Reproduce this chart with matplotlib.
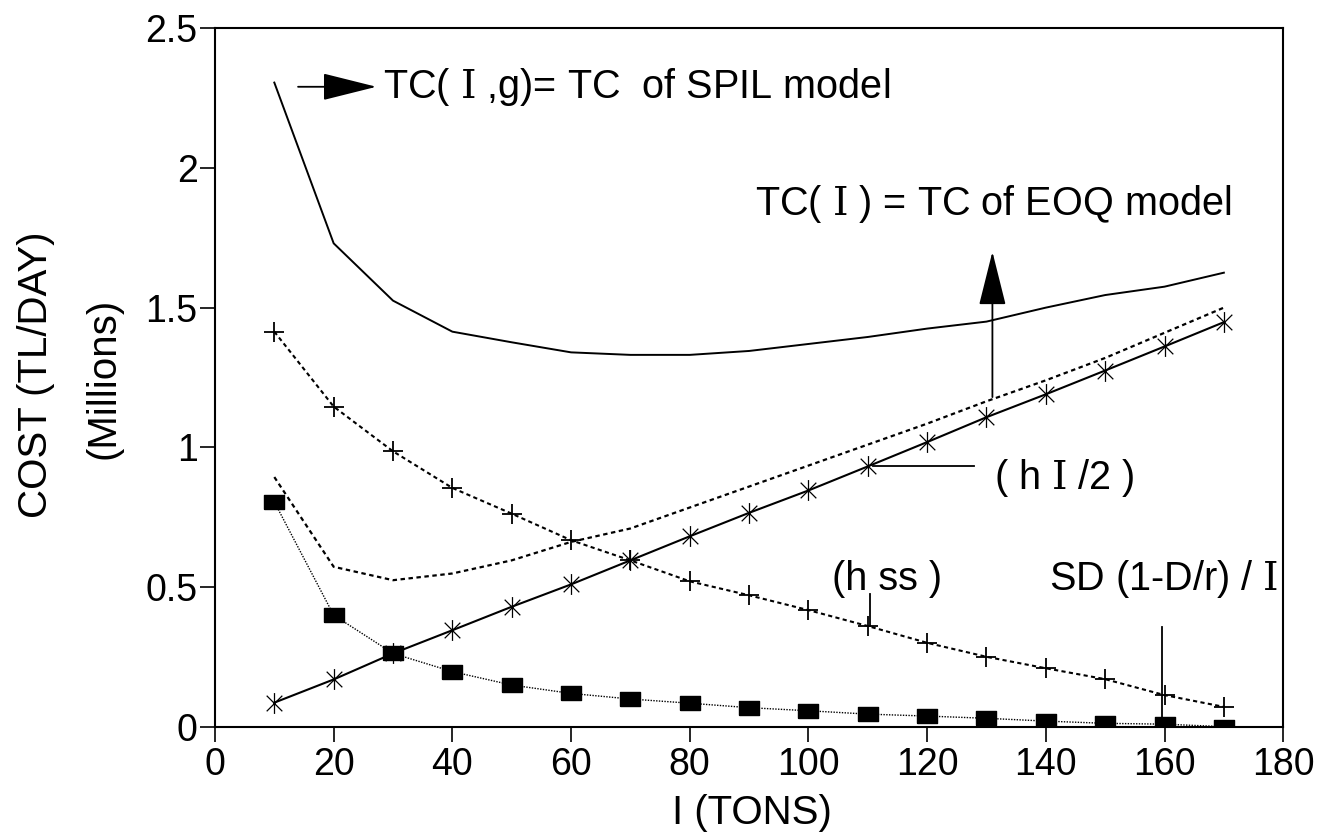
import matplotlib
matplotlib.use("Agg")
import matplotlib.pyplot as plt
from matplotlib.path import Path

plt.rcParams["font.family"] = ["Liberation Sans", "DejaVu Sans"]
plt.rcParams["mathtext.fontset"] = "dejavuserif"

# order quantity I (tons)
tons = [10, 20, 30, 40, 50, 60, 70, 80, 90, 100, 110, 120, 130, 140, 150, 160, 170]

# cost components, millions TL/day
tc_spil = [2.305, 1.73, 1.525, 1.414, 1.376, 1.34, 1.331, 1.331, 1.345, 1.37,
           1.395, 1.425, 1.45, 1.50, 1.545, 1.575, 1.625]
tc_eoq = [0.894, 0.573, 0.525, 0.549, 0.596, 0.662, 0.71, 0.785, 0.86, 0.935,
          1.01, 1.085, 1.165, 1.24, 1.32, 1.41, 1.50]
holding = [0.087, 0.17, 0.263, 0.346, 0.43, 0.51, 0.596, 0.682, 0.766, 0.846,
           0.932, 1.019, 1.108, 1.19, 1.275, 1.361, 1.448]
safety = [1.414, 1.146, 0.986, 0.855, 0.763, 0.668, 0.596, 0.521, 0.471, 0.418,
          0.361, 0.301, 0.251, 0.21, 0.171, 0.114, 0.072]
shortage = [0.805, 0.40, 0.263, 0.198, 0.15, 0.12, 0.10, 0.085, 0.069, 0.058,
            0.046, 0.039, 0.031, 0.021, 0.013, 0.01, 0.001]

x_ticks = [0, 20, 40, 60, 80, 100, 120, 140, 160, 180]
y_ticks = [0, 0.5, 1, 1.5, 2, 2.5]
y_tick_labels = ["0", "0.5", "1", "1.5", "2", "2.5"]

# asterisk marker: vertical stroke plus two diagonals
star = Path([(0, -1), (0, 1), (-0.75, -0.75), (0.75, 0.75), (-0.75, 0.75), (0.75, -0.75)],
            [Path.MOVETO, Path.LINETO] * 3)
# flat rectangle for the shortage series
rect = [(-1.45, -1), (1.45, -1), (1.45, 1), (-1.45, 1), (-1.45, -1)]

fig = plt.figure(figsize=(13.27, 8.38), dpi=100)
ax = fig.add_axes([0.162, 0.1325, 0.805, 0.834])

ax.plot(tons, tc_spil, color="black", lw=1.4)
ax.plot(tons, tc_eoq, color="black", lw=1.6, ls=(0, (2, 1.6)))
ax.plot(tons, holding, color="black", lw=1.5, marker=star, ms=15,
        mfc="none", mec="black", mew=0.9)
ax.plot(tons, safety, color="black", lw=1.5, ls=(0, (2, 1.6)), marker="+",
        ms=15, mew=1.3)
ax.plot(tons, shortage, color="black", lw=1.0, ls=(0, (1, 1)), marker=rect,
        ms=15, mfc="black", mec="black")

ax.set_xlim(0, 180)
ax.set_ylim(0, 2.5)
ax.set_xticks(x_ticks)
ax.set_yticks(y_ticks)
ax.set_yticklabels(y_tick_labels)
ax.tick_params(direction="out", length=10.5, width=1.2, labelsize=27)
ax.tick_params(axis="y", pad=2)
ax.tick_params(axis="x", pad=4)
for s in ax.spines.values():
    s.set_linewidth(1.5)

head = "-|>,head_length=0.8,head_width=0.2"
note_size = 28.5

# SPIL label with arrow
ax.annotate("", xy=(27.2, 2.29), xytext=(14.0, 2.29),
            arrowprops=dict(arrowstyle=head, mutation_scale=43, color="black",
                            lw=1.3, shrinkA=0, shrinkB=0))
ax.text(28.3, 2.29, r"TC( $\mathrm{I}$ ,g)= TC  of SPIL model", fontsize=note_size,
        va="center", ha="left")

# EOQ label with arrow
ax.text(91.0, 1.87, r"TC( $\mathrm{I}$ ) = TC of EOQ model", fontsize=note_size,
        va="center", ha="left")
ax.annotate("", xy=(131.0, 1.70), xytext=(131.0, 1.18),
            arrowprops=dict(arrowstyle=head, mutation_scale=43, color="black",
                            lw=1.3, shrinkA=0, shrinkB=0))

# holding cost label
ax.plot([110.9, 127.9], [0.932, 0.932], color="black", lw=1.3)
ax.text(131.2, 0.89, r"( h $\mathrm{I}$ /2 )", fontsize=note_size, va="center", ha="left")

# safety stock label
ax.plot([110.3, 110.3], [0.36, 0.477], color="black", lw=1.3)
ax.text(104.0, 0.53, "(h ss )", fontsize=note_size, va="center", ha="left")

# shortage label
ax.plot([159.5, 159.5], [0.013, 0.358], color="black", lw=1.3)
ax.text(140.5, 0.53, r"SD (1-D/r) / $\mathrm{I}$", fontsize=note_size, va="center", ha="left")

fig.text(0.027, 0.5525, "COST (TL/DAY)", rotation=90, fontsize=29,
         va="center", ha="center")
fig.text(0.078, 0.549, "(Millions)", rotation=90, fontsize=29,
         va="center", ha="center")
fig.text(0.567, 0.030, "I (TONS)", fontsize=29, va="center", ha="center")

fig.savefig("out.png", dpi=100)
